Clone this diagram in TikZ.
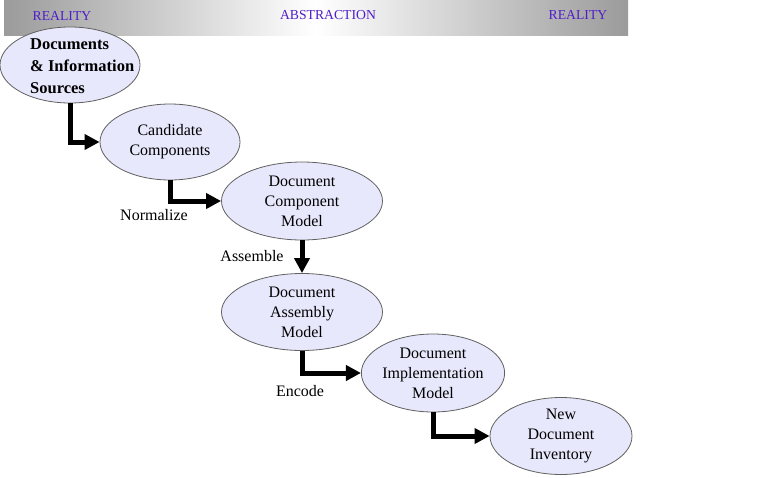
\documentclass[tikz,border=0pt]{standalone}
\usepackage{fontspec}
\setmainfont{Liberation Serif}
\usetikzlibrary{shapes.geometric,arrows.meta}
\definecolor{ellfill}{RGB}{232,232,252}
\definecolor{ellline}{RGB}{96,96,96}
\definecolor{bannertxt}{RGB}{80,30,200}
\definecolor{bangrey}{RGB}{155,155,155}
\tikzset{
  ell/.style={ellipse,draw=ellline,fill=ellfill,line width=0.8pt,inner sep=0pt,align=center,
    font=\fontsize{16}{20}\selectfont},
  flow/.style={line width=5pt,-{Triangle[length=15pt,width=15pt]}},
  lbl/.style={font=\fontsize{16}{18}\selectfont,inner sep=0pt},
  bantxt/.style={font=\fontsize{13.7}{15}\selectfont,text=bannertxt,inner sep=0pt}
}
\begin{document}
\begin{tikzpicture}[x=1pt,y=-1pt]
\useasboundingbox (0,0) rectangle (769,477);
\fill[white] (0,0) rectangle (769,477);
\shade[left color=bangrey,right color=bangrey,middle color=white] (4,0) rectangle (628,35);
\node[bantxt] (r1) at (62,16) {REALITY};
\node[bantxt] (ab) at (328,15) {ABSTRACTION};
\node[bantxt] (r2) at (578,15) {REALITY};

\node[ell,minimum width=140pt,minimum height=76pt] (e1) at (70,65) {};
\node[align=left,inner sep=0pt,anchor=west,font=\bfseries\fontsize{16.5}{22}\selectfont] (t1) at (30,66) {Documents\\\& Information\\Sources};
\node[ell,minimum width=140pt,minimum height=76pt] (e2) at (170,142) {Candidate\\Components};
\node[ell,minimum width=161pt,minimum height=78pt] (e3) at (302,201) {Document\\Component\\Model};
\node[ell,minimum width=161pt,minimum height=77pt] (e4) at (302,312) {Document\\Assembly\\Model};
\node[ell,minimum width=142pt,minimum height=78pt] (e5) at (433,373) {Document\\Implementation\\Model};
\node[ell,minimum width=142pt,minimum height=77pt] (e6) at (561,436) {New\\Document\\Inventory};

\draw[flow] (e1.south) |- (e2.west);
\draw[flow] (e2.south) |- (e3.west);
\draw[flow] (e3.south) -- (e4.north);
\draw[flow] (e4.south) |- (e5.west);
\draw[flow] (e5.south) |- (e6.west);

\node[lbl] (n) at (154,215) {Normalize};
\node[lbl] (a) at (252,256) {Assemble};
\node[lbl] (c) at (300,391) {Encode};
\end{tikzpicture}
\end{document}
